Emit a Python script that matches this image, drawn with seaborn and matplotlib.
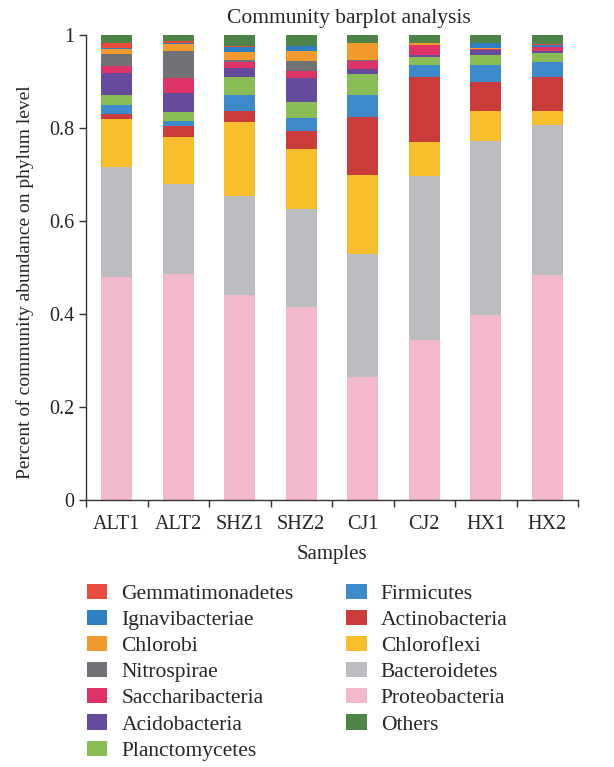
import pandas as pd
import seaborn as sns
import matplotlib.pyplot as plt
from matplotlib.patches import Patch

samples = ["ALT1", "ALT2", "SHZ1", "SHZ2", "CJ1", "CJ2", "HX1", "HX2"]

# stacked from bottom to top
proteobacteria = [0.480, 0.487, 0.440, 0.416, 0.264, 0.345, 0.397, 0.483]
bacteroidetes = [0.236, 0.192, 0.214, 0.209, 0.264, 0.351, 0.375, 0.323]
chloroflexi = [0.103, 0.101, 0.159, 0.129, 0.170, 0.073, 0.064, 0.030]
actinobacteria = [0.011, 0.024, 0.024, 0.039, 0.125, 0.140, 0.063, 0.073]
firmicutes = [0.019, 0.011, 0.033, 0.028, 0.047, 0.026, 0.036, 0.033]
planctomycetes = [0.022, 0.019, 0.040, 0.035, 0.047, 0.018, 0.022, 0.019]
acidobacteria = [0.047, 0.041, 0.020, 0.051, 0.009, 0.004, 0.011, 0.004]
saccharibacteria = [0.016, 0.033, 0.011, 0.015, 0.018, 0.021, 0.002, 0.009]
nitrospirae = [0.025, 0.058, 0.006, 0.022, 0.002, 0.000, 0.000, 0.000]
chlorobi = [0.011, 0.015, 0.017, 0.021, 0.036, 0.005, 0.002, 0.000]
ignavibacteriae = [0.003, 0.001, 0.011, 0.011, 0.000, 0.000, 0.010, 0.004]
gemmatimonadetes = [0.010, 0.005, 0.001, 0.000, 0.000, 0.000, 0.000, 0.002]
others = [0.017, 0.013, 0.024, 0.024, 0.018, 0.017, 0.018, 0.020]

phyla = [
    ("Proteobacteria", proteobacteria, "#F2B8CC"),
    ("Bacteroidetes", bacteroidetes, "#BCBDC1"),
    ("Chloroflexi", chloroflexi, "#F7BE2E"),
    ("Actinobacteria", actinobacteria, "#C93C3B"),
    ("Firmicutes", firmicutes, "#3F8ACB"),
    ("Planctomycetes", planctomycetes, "#8BBD56"),
    ("Acidobacteria", acidobacteria, "#664B9C"),
    ("Saccharibacteria", saccharibacteria, "#DE3366"),
    ("Nitrospirae", nitrospirae, "#707276"),
    ("Chlorobi", chlorobi, "#F39A2E"),
    ("Ignavibacteriae", ignavibacteriae, "#2E80C3"),
    ("Gemmatimonadetes", gemmatimonadetes, "#E84C3D"),
    ("Others", others, "#4E8448"),
]

legend_order = ["Gemmatimonadetes", "Ignavibacteriae", "Chlorobi", "Nitrospirae",
                "Saccharibacteria", "Acidobacteria", "Planctomycetes",
                "Firmicutes", "Actinobacteria", "Chloroflexi", "Bacteroidetes",
                "Proteobacteria", "Others"]

sns.set_theme(style="ticks")
plt.rcParams["font.family"] = ["Liberation Serif", "DejaVu Serif"]
plt.rcParams["font.size"] = 14

fig = plt.figure(figsize=(6.14, 7.67), dpi=100)
ax = fig.add_axes([86 / 614, 1 - 500 / 767, 492 / 614, 465 / 767])

bottom = [0.0] * len(samples)
colors = {}
for name, vals, col in phyla:
    df = pd.DataFrame({"Sample": samples, "Value": vals})
    sns.barplot(data=df, x="Sample", y="Value", color=col, width=0.5,
                bottom=bottom, errorbar=None, saturation=1, linewidth=0,
                edgecolor="none", ax=ax)
    bottom = [b + v for b, v in zip(bottom, vals)]
    colors[name] = col

ax.set_xlim(-0.5, len(samples) - 0.5)
ax.set_ylim(0, 1)
ax.set_yticks([0, 0.2, 0.4, 0.6, 0.8, 1])
ax.set_yticklabels(["0", "0.2", "0.4", "0.6", "0.8", "1"])
ax.set_xticks(range(len(samples)))
ax.set_xticklabels(samples)
ax.set_xticks([i - 0.5 for i in range(len(samples) + 1)], minor=True)
ax.tick_params(axis="x", which="major", length=0, pad=11, labelsize=14.5)
ax.tick_params(axis="x", which="minor", length=5, width=1, color="#333333")
ax.tick_params(axis="y", length=5, width=1, color="#333333", labelsize=14.5)
for s in ["top", "right"]:
    ax.spines[s].set_visible(False)
for s in ["left", "bottom"]:
    ax.spines[s].set_color("#333333")
    ax.spines[s].set_linewidth(1)

ax.set_xlabel("Samples", fontsize=15, labelpad=8)
ax.set_ylabel("Percent of community abundance on phylum level", fontsize=14)
ax.yaxis.set_label_coords(-52 / 492, 0.468)
fig.text(349 / 614, 1 - 18 / 767, "Community barplot analysis", ha="center",
         va="center", fontsize=15.5)

handles = [Patch(facecolor=colors[n], edgecolor="none", label=n) for n in legend_order]
fig.legend(handles=handles, ncol=2, loc="upper left",
           bbox_to_anchor=(87 / 614, 1 - 584 / 767), frameon=False,
           fontsize=15.5, handlelength=0.95, handleheight=0.7,
           handletextpad=0.65, labelspacing=0.28, columnspacing=2.45,
           borderpad=0, borderaxespad=0)

fig.savefig("out.png", dpi=100)
